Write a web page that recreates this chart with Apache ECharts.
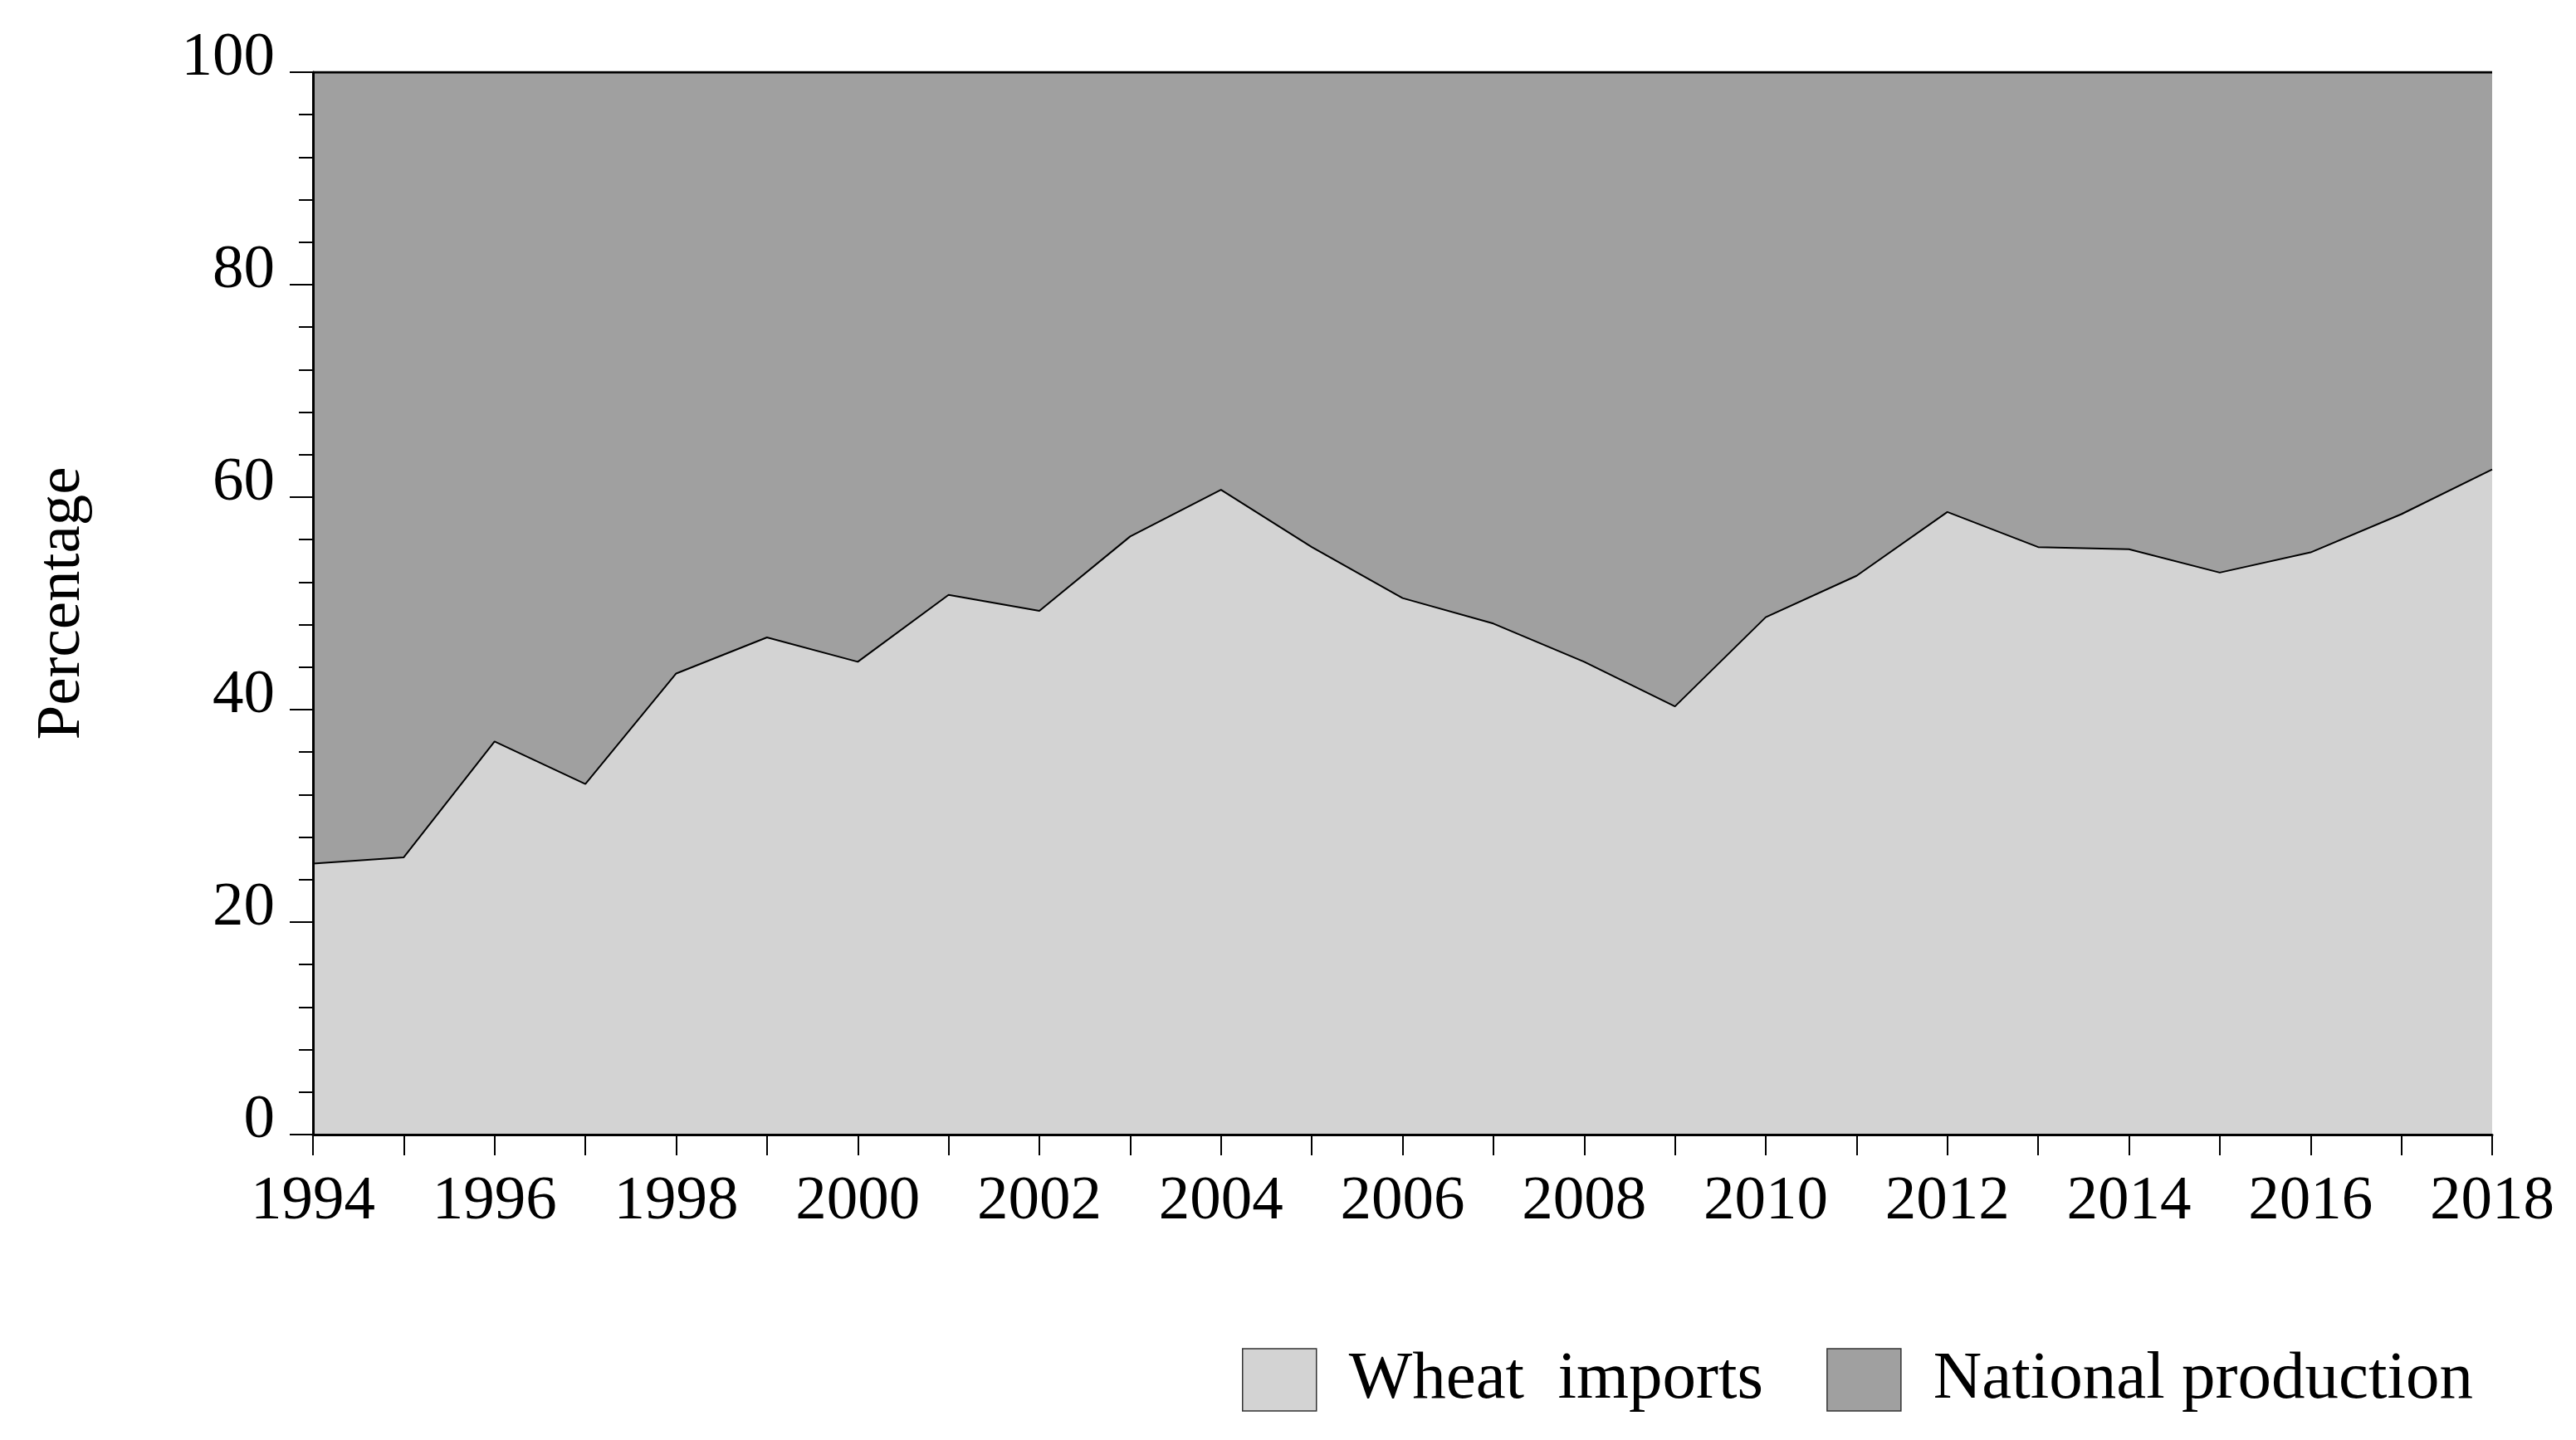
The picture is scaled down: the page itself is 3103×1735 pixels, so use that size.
<!DOCTYPE html>
<html>
<head>
<meta charset="utf-8">
<script src="https://cdn.jsdelivr.net/npm/echarts@6/dist/echarts.min.js"></script>
<style>
  html, body { margin: 0; padding: 0; background: #fff; }
  #chart { width: 3103px; height: 1735px; }
</style>
</head>
<body>
<div id="chart"></div>
<script>
const years = [
  '1994', '1995', '1996', '1997', '1998', '1999', '2000', '2001', '2002',
  '2003', '2004', '2005', '2006', '2007', '2008', '2009', '2010', '2011',
  '2012', '2013', '2014', '2015', '2016', '2017', '2018',
];
// share of wheat supply from imports (%)
const wheatImports = [
  25.5, 26.1, 37.0, 33.0, 43.4, 46.8, 44.5, 50.8, 49.3,
  56.3, 60.7, 55.3, 50.5, 48.1, 44.5, 40.3, 48.7, 52.6,
  58.6, 55.3, 55.1, 52.9, 54.8, 58.4, 62.6,
];
// share from national production (%)
const nationalProduction = [
  74.5, 73.9, 63.0, 67.0, 56.6, 53.2, 55.5, 49.2, 50.7,
  43.7, 39.3, 44.7, 49.5, 51.9, 55.5, 59.7, 51.3, 47.4,
  41.4, 44.7, 44.9, 47.1, 45.2, 41.6, 37.4,
];

const FONT = "'Liberation Serif', 'DejaVu Serif', serif";
const chart = echarts.init(document.getElementById('chart'));

chart.setOption({
  backgroundColor: '#fff',
  animation: false,
  grid: { left: 377, right: 101, top: 87, bottom: 368 },
  legend: {
    left: 1491,
    top: 1617,
    itemWidth: 89,
    itemHeight: 75,
    itemGap: 76,
    icon: 'rect',
    textStyle: {
      fontFamily: FONT,
      fontSize: 81,
      color: '#000',
      padding: [0, 0, 0, 34],
    },
    data: [
      { name: 'Wheat  imports', itemStyle: { color: '#d3d3d3', borderColor: '#333', borderWidth: 1.5 } },
      { name: 'National production', itemStyle: { color: '#a0a0a0', borderColor: '#333', borderWidth: 1.5 } },
    ],
  },
  xAxis: {
    type: 'category',
    boundaryGap: false,
    data: years,
    axisLine: { lineStyle: { color: '#000', width: 3 } },
    axisTick: { show: true, interval: 0, length: 25, lineStyle: { color: '#000', width: 2 } },
    axisLabel: {
      interval: 1,
      margin: 44,
      color: '#000',
      fontFamily: FONT,
      fontSize: 75,
    },
    splitLine: { show: false },
    z: 10,
  },
  yAxis: {
    type: 'value',
    min: 0,
    max: 100,
    interval: 20,
    name: 'Percentage',
    nameLocation: 'middle',
    nameRotate: 90,
    nameGap: 264,
    nameTextStyle: { color: '#000', fontFamily: FONT, fontSize: 75 },
    axisLine: { show: true, lineStyle: { color: '#000', width: 3 } },
    axisTick: { show: true, length: 28, lineStyle: { color: '#000', width: 2 } },
    minorTick: { show: true, splitNumber: 5, length: 17, lineStyle: { color: '#000', width: 2 } },
    axisLabel: {
      margin: 46,
      color: '#000',
      fontFamily: FONT,
      fontSize: 75,
      verticalAlign: 'bottom',
      lineHeight: 34,
    },
    splitLine: { show: false },
    z: 10,
  },
  series: [
    {
      name: 'Wheat  imports',
      type: 'line',
      stack: 'total',
      symbol: 'none',
      data: wheatImports,
      lineStyle: { color: '#000', width: 2 },
      itemStyle: { color: '#d3d3d3' },
      areaStyle: { color: '#d3d3d3', opacity: 1 },
    },
    {
      name: 'National production',
      type: 'line',
      stack: 'total',
      symbol: 'none',
      data: nationalProduction,
      lineStyle: { color: '#000', width: 3 },
      itemStyle: { color: '#a0a0a0' },
      areaStyle: { color: '#a0a0a0', opacity: 1 },
    },
  ],
});
</script>
</body>
</html>
